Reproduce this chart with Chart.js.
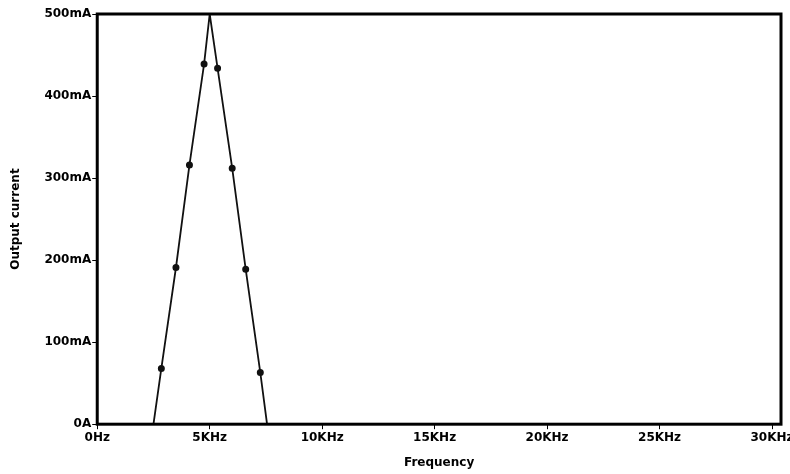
<!DOCTYPE html>
<html>
<head>
<meta charset="utf-8">
<script src="https://cdn.jsdelivr.net/npm/chart.js@4"></script>
<style>
  html, body { margin: 0; padding: 0; background: #fff; }
</style>
</head>
<body>
<canvas id="chart" width="790" height="474"></canvas>
<script>
// frequency in KHz, output current in mA
var freqKHz = [0, 2.5, 2.85, 3.5, 4.1, 4.75, 5.0, 5.35, 6.0, 6.6, 7.25, 7.55, 30];
var currentMA = [0, 0, 68, 191, 316, 439, 500, 434, 312, 189, 63, 0, 0];
var hasMarker = [0, 0, 1, 1, 1, 1, 0, 1, 1, 1, 1, 0, 0];
var xTicks = [0, 5, 10, 15, 20, 25, 30];
var yTicks = [0, 100, 200, 300, 400, 500];

var points = freqKHz.map(function (f, i) { return { x: f, y: currentMA[i] }; });

// thick frame round the plot area
var frame = {
  id: "frame",
  afterDatasetsDraw: function (chart) {
    var a = chart.chartArea, c = chart.ctx;
    c.save();
    c.strokeStyle = "#000";
    c.lineWidth = 3;
    c.strokeRect(a.left, a.top, a.right - a.left, a.bottom - a.top);
    c.restore();
  }
};

var font = { family: "DejaVu Sans, Arial, sans-serif", size: 12, weight: "bold" };

new Chart(document.getElementById("chart").getContext("2d"), {
  type: "scatter",
  data: {
    datasets: [{
      data: points,
      showLine: true,
      borderColor: "#111",
      borderWidth: 1.8,
      backgroundColor: "#111",
      pointRadius: hasMarker.map(function (m) { return m ? 2.6 : 0; }),
      pointStyle: "circle",
      tension: 0
    }]
  },
  options: {
    responsive: false,
    animation: false,
    layout: { padding: { top: 14, right: 9, left: 9, bottom: 4 } },
    plugins: { legend: { display: false }, tooltip: { enabled: false } },
    scales: {
      x: {
        type: "linear",
        min: 0,
        max: 30.4,
        afterBuildTicks: function (axis) {
          axis.ticks = xTicks.map(function (v) { return { value: v }; });
        },
        afterFit: function (axis) { axis.paddingRight = 0; },
        grid: { display: true, drawOnChartArea: false, drawTicks: true, tickLength: 5, color: "#000" },
        border: { display: false },
        ticks: {
          color: "#000",
          font: font,
          padding: 1,
          maxRotation: 0,
          callback: function (v) { return v === 0 ? "0Hz" : v + "KHz"; }
        },
        title: { display: true, text: "Frequency", color: "#000", font: font, padding: { top: 10, bottom: 0 } }
      },
      y: {
        min: 0,
        max: 500,
        afterBuildTicks: function (axis) {
          axis.ticks = yTicks.map(function (v) { return { value: v }; });
        },
        grid: { display: true, drawOnChartArea: false, drawTicks: true, tickLength: 5, color: "#000" },
        border: { display: false },
        ticks: {
          color: "#000",
          font: font,
          padding: 1,
          callback: function (v) { return v === 0 ? "0A" : v + "mA"; }
        },
        title: { display: true, text: "Output current", color: "#000", font: font, padding: { top: 0, bottom: 20 } }
      }
    }
  },
  plugins: [frame]
});
</script>
</body>
</html>
